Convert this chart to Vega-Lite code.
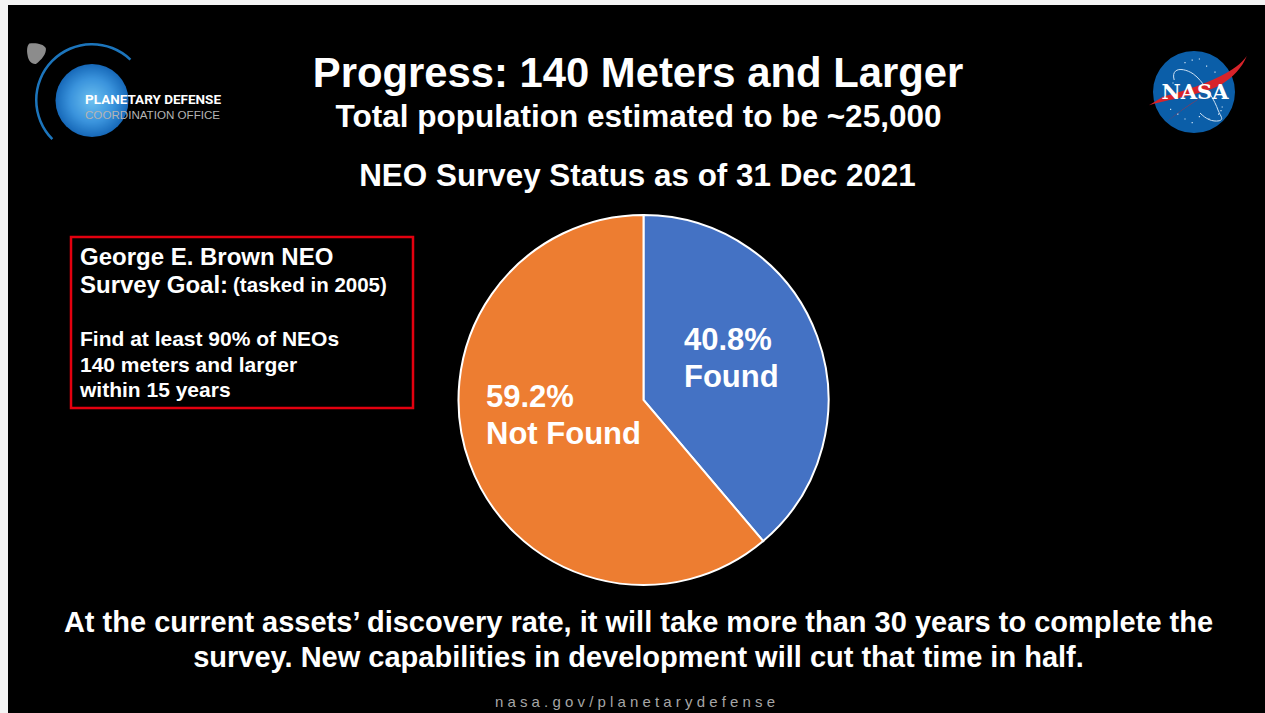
{"$schema":"https://vega.github.io/schema/vega-lite/v6.json","width":1265,"height":713,"padding":0,"autosize":{"type":"fit","contains":"padding"},"background":"#f4f4f4","config":{"view":{"stroke":null},"axis":{"disable":true},"text":{"font":"Liberation Sans"}},
"data":{"values":[{"status":"Found","share":38.8,"rank":1},{"status":"Not Found","share":61.2,"rank":2}]},
"layer":[
{"data":{"values":[{"region":"slide"}]},"mark":{"type":"rect","fill":"#000000"},"encoding":{"x":{"datum":8,"type":"quantitative","scale":{"domain":[0,1265],"nice":false,"zero":false}},"x2":{"datum":1265},"y":{"datum":5,"type":"quantitative","scale":{"domain":[0,713],"reverse":true,"nice":false,"zero":false}},"y2":{"datum":713}}},
{"data":{"values":[{"region":"box"}]},"mark":{"type":"rect","fill":"transparent","stroke":"#e3000f","strokeWidth":2.5},"encoding":{"x":{"datum":71,"type":"quantitative","scale":{"domain":[0,1265],"nice":false,"zero":false}},"x2":{"datum":413},"y":{"datum":237,"type":"quantitative","scale":{"domain":[0,713],"reverse":true,"nice":false,"zero":false}},"y2":{"datum":408}}},
{"mark":{"type":"arc","radius":185,"stroke":"#ffffff","strokeWidth":2},"encoding":{"x":{"datum":643.5,"type":"quantitative","scale":{"domain":[0,1265],"nice":false,"zero":false}},"y":{"datum":400,"type":"quantitative","scale":{"domain":[0,713],"reverse":true,"nice":false,"zero":false}},"theta":{"field":"share","type":"quantitative","stack":true},"order":{"field":"rank"},"color":{"field":"status","type":"nominal","legend":null,"scale":{"domain":["Found","Not Found"],"range":["#4472C4","#ED7D31"]}}}},
{"data":{"values":[{"t":"40.8%\nFound"}]},"mark":{"type":"text","align":"left","baseline":"middle","fontWeight":"bold","fontSize":31,"lineBreak":"\n","lineHeight":37,"fill":"#ffffff"},"encoding":{"x":{"datum":684,"type":"quantitative","scale":{"domain":[0,1265],"nice":false,"zero":false}},"y":{"datum":341,"type":"quantitative","scale":{"domain":[0,713],"reverse":true,"nice":false,"zero":false}},"text":{"field":"t"}}},
{"data":{"values":[{"t":"59.2%\nNot Found"}]},"mark":{"type":"text","align":"left","baseline":"middle","fontWeight":"bold","fontSize":31,"lineBreak":"\n","lineHeight":37,"fill":"#ffffff"},"encoding":{"x":{"datum":486,"type":"quantitative","scale":{"domain":[0,1265],"nice":false,"zero":false}},"y":{"datum":398,"type":"quantitative","scale":{"domain":[0,713],"reverse":true,"nice":false,"zero":false}},"text":{"field":"t"}}},
{"data":{"values":[{"t":"Progress: 140 Meters and Larger"}]},"mark":{"type":"text","align":"center","baseline":"middle","fontWeight":"bold","fontSize":41.8,"fill":"#ffffff"},"encoding":{"x":{"datum":638,"type":"quantitative","scale":{"domain":[0,1265],"nice":false,"zero":false}},"y":{"datum":74,"type":"quantitative","scale":{"domain":[0,713],"reverse":true,"nice":false,"zero":false}},"text":{"field":"t"}}},
{"data":{"values":[{"t":"Total population estimated to be ~25,000"}]},"mark":{"type":"text","align":"center","baseline":"middle","fontWeight":"bold","fontSize":31.5,"fill":"#ffffff"},"encoding":{"x":{"datum":638.5,"type":"quantitative","scale":{"domain":[0,1265],"nice":false,"zero":false}},"y":{"datum":118,"type":"quantitative","scale":{"domain":[0,713],"reverse":true,"nice":false,"zero":false}},"text":{"field":"t"}}},
{"data":{"values":[{"t":"NEO Survey Status as of 31 Dec 2021"}]},"mark":{"type":"text","align":"center","baseline":"middle","fontWeight":"bold","fontSize":31.4,"fill":"#ffffff"},"encoding":{"x":{"datum":637.5,"type":"quantitative","scale":{"domain":[0,1265],"nice":false,"zero":false}},"y":{"datum":177,"type":"quantitative","scale":{"domain":[0,713],"reverse":true,"nice":false,"zero":false}},"text":{"field":"t"}}},
{"data":{"values":[{"t":"George E. Brown NEO\nSurvey Goal:"}]},"mark":{"type":"text","align":"left","baseline":"middle","fontWeight":"bold","fontSize":24,"lineBreak":"\n","lineHeight":28,"fill":"#ffffff"},"encoding":{"x":{"datum":80,"type":"quantitative","scale":{"domain":[0,1265],"nice":false,"zero":false}},"y":{"datum":258,"type":"quantitative","scale":{"domain":[0,713],"reverse":true,"nice":false,"zero":false}},"text":{"field":"t"}}},
{"data":{"values":[{"t":"(tasked in 2005)"}]},"mark":{"type":"text","align":"left","baseline":"middle","fontWeight":"bold","fontSize":20.5,"fill":"#ffffff"},"encoding":{"x":{"datum":233,"type":"quantitative","scale":{"domain":[0,1265],"nice":false,"zero":false}},"y":{"datum":286,"type":"quantitative","scale":{"domain":[0,713],"reverse":true,"nice":false,"zero":false}},"text":{"field":"t"}}},
{"data":{"values":[{"t":"Find at least 90% of NEOs\n140 meters and larger\nwithin 15 years"}]},"mark":{"type":"text","align":"left","baseline":"middle","fontWeight":"bold","fontSize":21,"lineBreak":"\n","lineHeight":25.5,"fill":"#ffffff"},"encoding":{"x":{"datum":80,"type":"quantitative","scale":{"domain":[0,1265],"nice":false,"zero":false}},"y":{"datum":340,"type":"quantitative","scale":{"domain":[0,713],"reverse":true,"nice":false,"zero":false}},"text":{"field":"t"}}},
{"data":{"values":[{"t":"At the current assets’ discovery rate, it will take more than 30 years to complete the\nsurvey. New capabilities in development will cut that time in half."}]},"mark":{"type":"text","align":"center","baseline":"middle","fontWeight":"bold","fontSize":29,"lineBreak":"\n","lineHeight":35,"fill":"#ffffff"},"encoding":{"x":{"datum":638.5,"type":"quantitative","scale":{"domain":[0,1265],"nice":false,"zero":false}},"y":{"datum":623,"type":"quantitative","scale":{"domain":[0,713],"reverse":true,"nice":false,"zero":false}},"text":{"field":"t"}}},
{"data":{"values":[{"t":"n a s a . g o v / p l a n e t a r y d e f e n s e"}]},"mark":{"type":"text","align":"center","baseline":"middle","fontSize":15,"fill":"#a6a6a6"},"encoding":{"x":{"datum":635,"type":"quantitative","scale":{"domain":[0,1265],"nice":false,"zero":false}},"y":{"datum":702,"type":"quantitative","scale":{"domain":[0,713],"reverse":true,"nice":false,"zero":false}},"text":{"field":"t"}}},
{"data":{"values":[{"logo":"asteroid"}]},"mark":{"type":"point","filled":true,"fill":"#8c8c8c","opacity":1,"size":484,"shape":"M-.7,-.9C-.2,-1 .6,-.9 .8,-.5C.9,0 .4,.6 -.1,.95C-.5,1 -.8,.6 -.85,.2C-.95,-.3 -.9,-.7 -.7,-.9Z"},"encoding":{"x":{"datum":37,"type":"quantitative","scale":{"domain":[0,1265],"nice":false,"zero":false}},"y":{"datum":53.5,"type":"quantitative","scale":{"domain":[0,713],"reverse":true,"nice":false,"zero":false}}}},
{"data":{"values":[{"logo":"orbit"}]},"mark":{"type":"arc","radius":54.5,"radius2":57,"theta":-2.35,"theta2":0.76,"fill":"#1c75bc"},"encoding":{"x":{"datum":92,"type":"quantitative","scale":{"domain":[0,1265],"nice":false,"zero":false}},"y":{"datum":100,"type":"quantitative","scale":{"domain":[0,713],"reverse":true,"nice":false,"zero":false}}}},
{"data":{"values":[{"logo":"planet"}]},"mark":{"type":"point","filled":true,"opacity":1,"size":5329,"fill":{"gradient":"radial","x1":0.5,"y1":0.5,"r1":0,"x2":0.5,"y2":0.5,"r2":0.5,"stops":[{"offset":0,"color":"#6cc0f0"},{"offset":0.6,"color":"#3a93dc"},{"offset":1,"color":"#1668b8"}]}},"encoding":{"x":{"datum":92,"type":"quantitative","scale":{"domain":[0,1265],"nice":false,"zero":false}},"y":{"datum":100.5,"type":"quantitative","scale":{"domain":[0,713],"reverse":true,"nice":false,"zero":false}}}},
{"data":{"values":[{"t":"PLANETARY DEFENSE"}]},"mark":{"type":"text","align":"left","baseline":"middle","fontWeight":"bold","fontSize":13.5,"font":"Roboto","fill":"#ffffff"},"encoding":{"x":{"datum":85,"type":"quantitative","scale":{"domain":[0,1265],"nice":false,"zero":false}},"y":{"datum":100,"type":"quantitative","scale":{"domain":[0,713],"reverse":true,"nice":false,"zero":false}},"text":{"field":"t"}}},
{"data":{"values":[{"t":"COORDINATION OFFICE"}]},"mark":{"type":"text","align":"left","baseline":"middle","fontSize":11.6,"fill":"#b4b4b4"},"encoding":{"x":{"datum":85,"type":"quantitative","scale":{"domain":[0,1265],"nice":false,"zero":false}},"y":{"datum":116,"type":"quantitative","scale":{"domain":[0,713],"reverse":true,"nice":false,"zero":false}},"text":{"field":"t"}}},
{"data":{"values":[{"logo":"nasa disc"}]},"mark":{"type":"point","filled":true,"fill":"#0b5ea8","opacity":1,"size":6724},"encoding":{"x":{"datum":1194,"type":"quantitative","scale":{"domain":[0,1265],"nice":false,"zero":false}},"y":{"datum":92,"type":"quantitative","scale":{"domain":[0,713],"reverse":true,"nice":false,"zero":false}}}},
{"data":{"values":[{"logo":"nasa stars"}]},"mark":{"type":"point","filled":true,"fill":"#cfe3f5","opacity":1,"size":14400,"shape":"M-.16,-.5h.02v.02h-.02zM-.04,-.54h.02v.02h-.02zM.08,-.56h.02v.02h-.02zM.2,-.44h.02v.02h-.02zM.34,-.34h.02v.02h-.02zM-.4,.28h.02v.02h-.02zM-.28,.36h.02v.02h-.02zM-.16,.44h.02v.02h-.02zM-.04,.5h.02v.02h-.02zM.08,.4h.02v.02h-.02zM.24,.44h.02v.02h-.02zM.4,.36h.02v.02h-.02zM.46,.24h.02v.02h-.02zM-.36,-.16h.02v.02h-.02zM.44,.3h.02v.02h-.02z"},"encoding":{"x":{"datum":1194,"type":"quantitative","scale":{"domain":[0,1265],"nice":false,"zero":false}},"y":{"datum":92,"type":"quantitative","scale":{"domain":[0,713],"reverse":true,"nice":false,"zero":false}}}},
{"data":{"values":[{"logo":"nasa orbit"}]},"mark":{"type":"point","filled":false,"stroke":"#cfe3f5","strokeWidth":1,"opacity":1,"size":14400,"shape":"M-.33,-.2C-.4,-.45 -.1,-.4 .05,-.25C.2,-.1 .35,.15 .4,.3C.45,.42 .5,.45 .42,.48C.3,.5 .2,.45 .1,.35"},"encoding":{"x":{"datum":1194,"type":"quantitative","scale":{"domain":[0,1265],"nice":false,"zero":false}},"y":{"datum":92,"type":"quantitative","scale":{"domain":[0,713],"reverse":true,"nice":false,"zero":false}}}},
{"data":{"values":[{"logo":"nasa swoosh"}]},"mark":{"type":"point","filled":true,"fill":"#d8232a","opacity":1,"size":14400,"shape":"M.88,-.6C.7,-.35 .3,-.15 -.52,.08L-.75,.22C-.3,.1 .2,.02 .45,-.12C.65,-.25 .8,-.4 .88,-.6ZM.5,-.14C.1,.1 -.3,.35 -.57,.6C-.25,.3 .1,.1 .5,-.14Z"},"encoding":{"x":{"datum":1194,"type":"quantitative","scale":{"domain":[0,1265],"nice":false,"zero":false}},"y":{"datum":92,"type":"quantitative","scale":{"domain":[0,713],"reverse":true,"nice":false,"zero":false}}}},
{"data":{"values":[{"t":"NASA"}]},"mark":{"type":"text","align":"center","baseline":"middle","fontWeight":"bold","fontSize":21,"font":"DejaVu Serif","fill":"#ffffff"},"encoding":{"x":{"datum":1195,"type":"quantitative","scale":{"domain":[0,1265],"nice":false,"zero":false}},"y":{"datum":93,"type":"quantitative","scale":{"domain":[0,713],"reverse":true,"nice":false,"zero":false}},"text":{"field":"t"}}}
]}
